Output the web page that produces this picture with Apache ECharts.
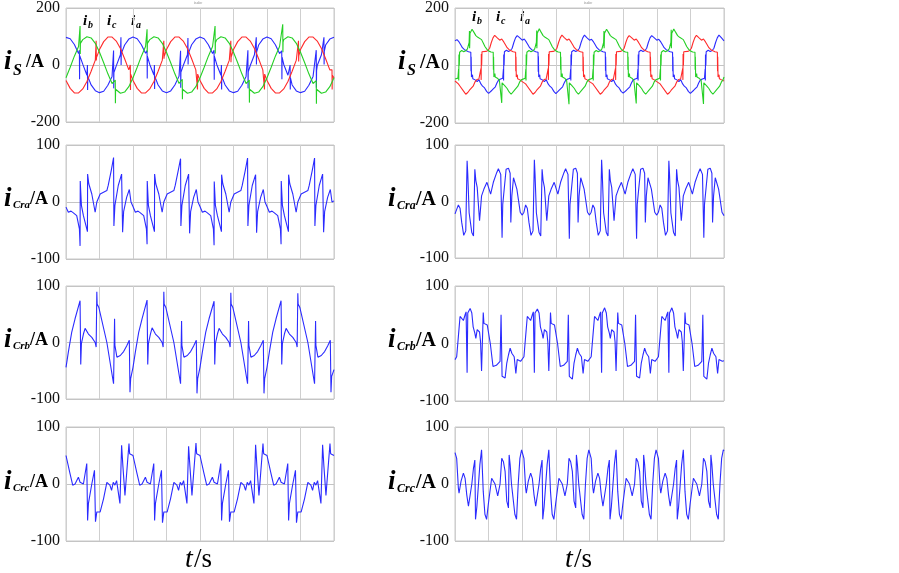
<!DOCTYPE html>
<html><head><meta charset="utf-8">
<script src="https://cdn.jsdelivr.net/npm/echarts@6/dist/echarts.min.js"></script>
<style>html,body{margin:0;padding:0;background:#fff}#c{width:899px;height:573px}</style>
</head><body><div id="c"></div>
<script>
// time axis: ms, 4 cycles of 20 ms, gridlines every 10 ms
const cycleStart = [0, 20, 40, 60];
const xTicks = [0, 10, 20, 30, 40, 50, 60, 70, 80];
const yTicksS = [-200, 0, 200];
const yTicksC = [-100, 0, 100];

// ---- left column (compensated) : source currents, [t within cycle (ms), A]
const iaL = [
 [[0,97],[1.25,92],[2.5,72],[3.75,40],[4.0,52],[4.05,-50],[4.1,33],[5,3],[6.25,-36],[6.4,0],[6.45,-88],[6.5,-40],[7.5,-70],[8.75,-90],[10,-97],[11.25,-92],[12.5,-71],[13.75,-40],[14.2,51],[14.25,-82],[14.3,-27],[15,-3],[16.25,36],[16.4,97],[16.45,0],[16.5,40],[17.5,70],[18.75,91]],
 [[0,98],[1.25,92],[2.5,71],[3.75,41],[4.2,51],[4.25,-47],[4.3,30],[5,2],[6.25,-35],[6.4,0],[6.45,-84],[6.5,-40],[7.5,-70],[8.75,-91],[10,-97],[11.25,-91],[12.5,-70],[13.75,-39],[14.2,50],[14.25,-80],[14.3,-26],[15,-2],[16.25,36],[16.4,95],[16.45,2],[16.5,40],[17.5,71],[18.75,91]],
 [[0,98],[1.25,92],[2.5,71],[3.75,40],[4.2,52],[4.25,-52],[4.3,30],[5,2],[6.25,-36],[6.4,0],[6.45,-86],[6.5,-40],[7.5,-70],[8.75,-91],[10,-97],[11.25,-92],[12.5,-71],[13.75,-40],[14.3,52],[14.35,-82],[14.4,-24],[15,-2],[16.25,36],[16.8,97],[16.85,2],[16.9,45],[17.5,70],[18.75,91]],
 [[0,98],[1.25,92],[2.5,71],[3.75,40],[4.4,50],[4.45,-50],[4.5,28],[5,2],[6.25,-36],[6.9,0],[6.95,-86],[7,-45],[7.5,-70],[8.75,-91],[10,-97],[11.25,-92],[12.5,-71],[13.75,-40],[14.7,52],[14.75,-80],[14.8,-20],[15,-2],[16.25,36],[17,97],[17.05,2],[17.1,48],[17.5,70],[18.75,91],[20,97]]
];
const ibL = [
 [[0,-45],[1.25,-8],[2.5,31],[3.75,65],[4.2,137],[4.25,39],[4.3,76],[5,89],[6.25,99],[7.5,95],[8.75,76],[10,45],[11.25,8],[12.5,-31],[13.75,-65],[14.7,-53],[14.75,-134],[14.8,-85],[15,-89],[16.25,-99],[17.5,-95],[18.75,-76]],
 [[0,-45],[1.25,-8],[2.5,31],[3.75,65],[4.2,125],[4.25,45],[4.3,76],[5,89],[6.25,99],[7.5,95],[8.75,76],[10,45],[11.25,8],[12.5,-31],[13.75,-65],[14.7,-50],[14.75,-120],[14.8,-85],[15,-89],[16.25,-99],[17.5,-95],[18.75,-76]],
 [[0,-45],[1.25,-8],[2.5,31],[3.75,65],[4.5,137],[4.55,40],[4.6,78],[5,89],[6.25,99],[7.5,95],[8.75,76],[10,45],[11.25,8],[12.5,-31],[13.75,-65],[14.7,-53],[14.75,-132],[14.8,-85],[15,-89],[16.25,-99],[17.5,-95],[18.75,-76]],
 [[0,-45],[1.25,-8],[2.5,31],[3.75,65],[4.7,143],[4.75,45],[4.8,80],[5,89],[6.25,99],[7.5,95],[8.75,76],[10,45],[11.25,8],[12.5,-31],[13.75,-65],[14.7,-55],[14.75,-136],[14.8,-85],[15,-89],[16.25,-99],[17.5,-95],[18.75,-76],[20,-45]]
];
const icL = [
 [[0,-54],[1.25,-82],[2.5,-98],[3.75,-98],[5,-84],[6.25,-58],[7.5,-22],[8.75,17],[9.0,85],[9.05,16],[9.1,26],[10,54],[11.25,82],[12.5,98],[13.75,98],[15,84],[16.25,58],[17.5,22],[18.75,-17],[19.2,0],[19.25,-88],[19.3,-32]],
 [[0,-54],[1.25,-82],[2.5,-98],[3.75,-98],[5,-84],[6.25,-58],[7.5,-22],[8.75,17],[9.2,85],[9.25,22],[9.3,30],[10,54],[11.25,82],[12.5,98],[13.75,98],[15,84],[16.25,58],[17.5,22],[18.75,-17],[19.2,-12],[19.25,-86],[19.3,-32]],
 [[0,-54],[1.25,-82],[2.5,-98],[3.75,-98],[5,-84],[6.25,-58],[7.5,-22],[8.75,17],[9.2,85],[9.25,10],[9.3,28],[10,54],[11.25,82],[12.5,98],[13.75,98],[15,84],[16.25,58],[17.5,22],[18.75,-17],[19.2,-10],[19.25,-86],[19.3,-32]],
 [[0,-54],[1.25,-82],[2.5,-98],[3.75,-98],[5,-84],[6.25,-58],[7.5,-22],[8.75,17],[9.4,85],[9.45,12],[9.5,32],[10,54],[11.25,82],[12.5,98],[13.75,98],[15,84],[16.25,58],[17.5,22],[18.75,-17],[19.4,-17],[19.45,-86],[19.5,-36],[20,-45]]
];
const icraL = [
 [[0,-9],[0.7,-18],[1.5,-16],[2.2,-19],[2.7,-17],[3.2,-24],[4.0,-47],[4.2,-77],[4.25,37],[4.6,-6],[5.2,-24],[6.2,-47],[6.4,-52],[6.45,49],[6.8,32],[7.7,14],[8.7,-18],[9.2,0],[10.2,14],[11.2,17],[12.2,20],[12.6,29],[13.5,55],[14.2,78],[14.3,-42],[14.6,-6],[15.6,29],[16.6,49],[16.9,-53],[17.2,-17],[18.1,8],[18.9,22],[19.4,0]],
 [[0,-8],[0.7,-18],[1.5,-16],[2.2,-19],[2.7,-17],[3.2,-24],[4.0,-47],[4.2,-74],[4.25,37],[4.6,-6],[5.2,-24],[6.2,-47],[6.4,-52],[6.45,49],[6.8,32],[7.7,14],[8.7,-18],[9.2,0],[10.2,14],[11.2,17],[12.2,20],[12.6,29],[13.5,55],[14.2,76],[14.3,-42],[14.6,-6],[15.6,29],[16.6,49],[16.9,-55],[17.2,-17],[18.1,8],[18.9,22],[19.4,0]],
 [[0,-8],[0.7,-18],[1.5,-16],[2.2,-19],[2.7,-17],[3.2,-24],[4.0,-47],[4.2,-76],[4.25,36],[4.6,-6],[5.2,-24],[6.2,-47],[6.4,-52],[6.45,48],[6.8,32],[7.7,14],[8.7,-18],[9.2,0],[10.2,14],[11.2,17],[12.2,20],[12.6,29],[13.5,55],[14.2,77],[14.3,-42],[14.6,-6],[15.6,29],[16.6,48],[16.9,-54],[17.2,-17],[18.1,8],[18.9,22],[19.4,0]],
 [[0,-8],[0.7,-18],[1.5,-16],[2.2,-19],[2.7,-17],[3.2,-24],[4.0,-47],[4.2,-74],[4.25,37],[4.6,-6],[5.2,-24],[6.2,-47],[6.4,-52],[6.45,48],[6.8,32],[7.7,14],[8.7,-18],[9.2,0],[10.2,14],[11.2,17],[12.2,20],[12.6,29],[13.5,55],[14.2,77],[14.3,-42],[14.6,-6],[15.6,29],[16.6,49],[16.9,-53],[17.2,-17],[18.1,8],[18.9,22],[19.4,0],[20,2]]
];
const icrbL = [
 [[0,-44],[0.7,-17],[1.7,18],[2.7,42],[4.2,74],[4.4,-39],[4.6,-2],[5.2,15],[5.7,25],[6.7,15],[7.7,9],[8.7,0],[9.0,-8],[9.2,90],[9.3,68],[9.8,62],[12.2,0],[14.2,-73],[14.5,42],[14.6,-5],[15.2,-26],[16.2,-23],[17.2,-16],[18.1,-6],[18.9,4],[19.1,-88],[19.3,-64]],
 [[0,-44],[0.7,-17],[1.7,18],[2.7,42],[4.2,75],[4.4,-39],[4.6,-2],[5.2,15],[5.7,26],[6.7,15],[7.7,9],[8.7,0],[9.0,-8],[9.2,90],[9.3,68],[9.8,62],[12.2,0],[14.2,-73],[14.5,38],[14.6,-5],[15.2,-26],[16.2,-23],[17.2,-16],[18.1,-6],[18.9,4],[19.1,-90],[19.3,-64]],
 [[0,-44],[0.7,-17],[1.7,18],[2.7,42],[4.2,73],[4.4,-39],[4.6,-2],[5.2,15],[5.7,25],[6.7,15],[7.7,9],[8.7,0],[9.0,-8],[9.2,88],[9.3,68],[9.8,62],[12.2,0],[14.2,-73],[14.5,38],[14.6,-5],[15.2,-26],[16.2,-23],[17.2,-16],[18.1,-6],[18.9,4],[19.1,-90],[19.3,-64]],
 [[0,-44],[0.7,-17],[1.7,18],[2.7,42],[4.2,74],[4.4,-39],[4.6,-2],[5.2,15],[5.7,25],[6.7,15],[7.7,9],[8.7,0],[9.0,-8],[9.2,87],[9.3,68],[9.8,62],[12.2,0],[14.2,-73],[14.5,38],[14.6,-5],[15.2,-26],[16.2,-23],[17.2,-16],[18.1,-6],[18.9,4],[19.1,-88],[19.3,-60],[20,-48]]
];
const icrcL = [
 [[0,50],[0.5,47],[1.2,18],[2.0,-2],[2.7,0],[3.7,12],[4.2,3],[5.2,0],[6.2,36],[6.45,-64],[6.7,-34],[7.7,0],[8.5,24],[8.8,-66],[9.2,-49],[10.2,-49],[11.2,-26],[12.2,3],[13.1,-2],[13.6,-11],[14.1,3],[14.6,-2],[15.1,6],[16.1,-34],[16.6,68],[17.0,30],[17.6,-20],[18.8,71],[19.0,53]],
 [[0,50],[0.5,47],[1.2,18],[2.0,-2],[2.7,0],[3.7,12],[4.2,3],[5.2,0],[6.2,36],[6.45,-64],[6.7,-34],[7.7,0],[8.5,24],[8.8,-68],[9.2,-49],[10.2,-49],[11.2,-26],[12.2,3],[13.1,-2],[13.6,-11],[14.1,3],[14.6,-2],[15.1,6],[16.1,-34],[16.6,66],[17.0,30],[17.6,-20],[18.8,72],[19.0,53]],
 [[0,50],[0.5,47],[1.2,18],[2.0,-2],[2.7,0],[3.7,12],[4.2,3],[5.2,0],[6.2,36],[6.45,-64],[6.7,-34],[7.7,0],[8.5,24],[8.8,-66],[9.2,-49],[10.2,-49],[11.2,-26],[12.2,3],[13.1,-2],[13.6,-11],[14.1,3],[14.6,-2],[15.1,6],[16.1,-34],[16.6,69],[17.0,30],[17.6,-20],[18.8,71],[19.0,53]],
 [[0,50],[0.5,47],[1.2,18],[2.0,-2],[2.7,0],[3.7,12],[4.2,3],[5.2,0],[6.2,36],[6.45,-64],[6.7,-34],[7.7,0],[8.5,24],[8.8,-68],[9.2,-49],[10.2,-49],[11.2,-26],[12.2,3],[13.1,-2],[13.6,-11],[14.1,3],[14.6,-2],[15.1,6],[16.1,-34],[16.6,69],[17.0,30],[17.6,-20],[18.8,71],[19.0,53],[20,50]]
];

// ---- right column (uncompensated)
const iaR = [
 [[0,86],[0.6,90],[1.2,82],[1.7,72],[2.2,62],[2.8,55],[3.4,51],[4.0,48],[4.5,50],[4.7,46],[4.75,-20],[4.8,30],[4.9,-40],[5.2,-32],[5.3,-46],[6,-50],[6.6,-56],[7.1,-49],[7.7,-64],[8.2,-72],[8.8,-78],[9.4,-90],[10.0,-97],[10.5,-92],[11.0,-86],[11.5,-80],[12.0,-74],[12.5,-60],[13.0,-50],[13.6,-47],[14.2,-44],[14.4,-12],[14.45,-52],[14.5,38],[14.6,0],[14.7,48],[15.3,53],[15.9,49],[16.5,52],[17.0,60],[17.5,80],[18.0,96],[18.5,104],[19.2,97]],
 [[0,88],[0.6,92],[1.2,82],[1.7,72],[2.2,62],[2.8,55],[3.4,51],[4.0,48],[4.5,50],[4.7,46],[4.75,-22],[4.8,32],[4.9,-40],[5.2,-32],[5.3,-46],[6,-50],[6.6,-56],[7.1,-49],[7.7,-64],[8.2,-72],[8.8,-78],[9.4,-90],[10.0,-98],[10.5,-92],[11.0,-86],[11.5,-80],[12.0,-74],[12.5,-60],[13.0,-50],[13.6,-47],[14.2,-44],[14.4,-12],[14.45,-52],[14.5,38],[14.6,0],[14.7,48],[15.3,53],[15.9,49],[16.5,52],[17.0,60],[17.5,80],[18.0,96],[18.5,106],[19.2,97]],
 [[0,88],[0.6,91],[1.2,82],[1.7,72],[2.2,62],[2.8,55],[3.4,51],[4.0,48],[4.5,50],[4.7,46],[4.75,-18],[4.8,30],[4.9,-40],[5.2,-32],[5.3,-46],[6,-50],[6.6,-56],[7.1,-49],[7.7,-64],[8.2,-72],[8.8,-78],[9.4,-90],[10.0,-96],[10.5,-92],[11.0,-86],[11.5,-80],[12.0,-74],[12.5,-60],[13.0,-50],[13.6,-47],[14.2,-44],[14.4,-12],[14.45,-52],[14.5,38],[14.6,0],[14.7,48],[15.3,53],[15.9,49],[16.5,52],[17.0,60],[17.5,80],[18.0,96],[18.5,104],[19.2,97]],
 [[0,88],[0.6,91],[1.2,82],[1.7,72],[2.2,62],[2.8,55],[3.4,51],[4.0,48],[4.5,50],[4.7,46],[4.75,-20],[4.8,30],[4.9,-40],[5.2,-32],[5.3,-46],[6,-50],[6.6,-56],[7.1,-49],[7.7,-64],[8.2,-72],[8.8,-78],[9.4,-90],[10.0,-97],[10.5,-92],[11.0,-86],[11.5,-80],[12.0,-74],[12.5,-60],[13.0,-50],[13.6,-47],[14.2,-44],[14.4,-12],[14.45,-52],[14.5,38],[14.6,0],[14.7,48],[15.3,53],[15.9,49],[16.5,52],[17.0,60],[17.5,80],[18.0,96],[18.5,106],[19.2,97],[20,86]]
];
const ibR = [
 [[0,-47],[0.87,-44],[1.07,-12],[1.12,-52],[1.17,38],[1.27,0],[1.37,46],[2.0,52],[2.6,48],[3.2,51],[3.7,58],[4.2,80],[4.3,120],[4.35,60],[4.47,112],[5.07,126],[5.6,116],[6.2,104],[6.8,98],[7.3,100],[7.9,90],[8.4,78],[8.9,66],[9.5,56],[10.1,50],[10.7,47],[11.2,49],[11.37,46],[11.42,-15],[11.47,30],[11.57,-40],[11.87,-28],[11.97,-40],[12.6,-44],[13.2,-52],[13.77,-50],[13.9,-130],[14.0,-60],[14.4,-64],[14.9,-72],[15.5,-80],[16.1,-92],[16.7,-100],[17.2,-94],[17.7,-86],[18.2,-80],[18.7,-72],[19.2,-58],[19.7,-50]],
 [[0,-47],[0.87,-44],[1.07,-12],[1.12,-52],[1.17,38],[1.27,0],[1.37,46],[2.0,52],[2.6,48],[3.2,51],[3.7,58],[4.2,80],[4.3,122],[4.35,60],[4.47,112],[5.07,128],[5.6,116],[6.2,104],[6.8,98],[7.3,100],[7.9,90],[8.4,78],[8.9,66],[9.5,56],[10.1,50],[10.7,47],[11.2,49],[11.37,46],[11.42,-15],[11.47,30],[11.57,-40],[11.87,-28],[11.97,-40],[12.6,-44],[13.2,-52],[13.77,-50],[13.9,-135],[14.0,-60],[14.4,-64],[14.9,-72],[15.5,-80],[16.1,-92],[16.7,-100],[17.2,-94],[17.7,-86],[18.2,-80],[18.7,-72],[19.2,-58],[19.7,-50]],
 [[0,-47],[0.87,-44],[1.07,-12],[1.12,-52],[1.17,38],[1.27,0],[1.37,46],[2.0,52],[2.6,48],[3.2,51],[3.7,58],[4.2,80],[4.3,120],[4.35,60],[4.47,112],[5.07,126],[5.6,116],[6.2,104],[6.8,98],[7.3,100],[7.9,90],[8.4,78],[8.9,66],[9.5,56],[10.1,50],[10.7,47],[11.2,49],[11.37,46],[11.42,-15],[11.47,30],[11.57,-40],[11.87,-28],[11.97,-40],[12.6,-44],[13.2,-52],[13.77,-50],[13.9,-132],[14.0,-60],[14.4,-64],[14.9,-72],[15.5,-80],[16.1,-92],[16.7,-100],[17.2,-94],[17.7,-86],[18.2,-80],[18.7,-72],[19.2,-58],[19.7,-50]],
 [[0,-47],[0.87,-44],[1.07,-12],[1.12,-52],[1.17,38],[1.27,0],[1.37,46],[2.0,52],[2.6,48],[3.2,51],[3.7,58],[4.2,80],[4.3,124],[4.35,60],[4.47,112],[5.07,127],[5.6,116],[6.2,104],[6.8,98],[7.3,100],[7.9,90],[8.4,78],[8.9,66],[9.5,56],[10.1,50],[10.7,47],[11.2,49],[11.37,46],[11.42,-15],[11.47,30],[11.57,-40],[11.87,-28],[11.97,-40],[12.6,-44],[13.2,-52],[13.77,-50],[13.9,-134],[14.0,-60],[14.4,-64],[14.9,-72],[15.5,-80],[16.1,-92],[16.7,-100],[17.2,-94],[17.7,-86],[18.2,-80],[18.7,-72],[19.2,-58],[19.7,-50],[20,-40]]
];
const icR = [
 [[0,-54],[0.45,-50],[1.0,-64],[1.5,-72],[2.0,-78],[2.6,-90],[3.2,-100],[3.8,-94],[4.3,-86],[4.8,-80],[5.4,-72],[5.9,-58],[6.5,-49],[7.1,-47],[7.5,-44],[7.73,-10],[7.78,-50],[7.83,40],[7.93,0],[8.03,48],[8.6,53],[9.2,49],[9.8,52],[10.3,60],[10.8,80],[11.3,96],[11.8,105],[12.5,97],[13.3,88],[13.9,92],[14.5,82],[15.0,72],[15.5,62],[16.1,55],[16.7,51],[17.3,48],[17.8,50],[18.03,46],[18.08,-20],[18.13,30],[18.23,-40],[18.53,-32],[18.63,-46],[19.3,-50]],
 [[0,-56],[0.45,-50],[1.0,-64],[1.5,-72],[2.0,-78],[2.6,-90],[3.2,-100],[3.8,-94],[4.3,-86],[4.8,-80],[5.4,-72],[5.9,-58],[6.5,-49],[7.1,-47],[7.5,-44],[7.73,-10],[7.78,-50],[7.83,40],[7.93,0],[8.03,48],[8.6,53],[9.2,49],[9.8,52],[10.3,60],[10.8,80],[11.3,96],[11.8,106],[12.5,97],[13.3,88],[13.9,92],[14.5,82],[15.0,72],[15.5,62],[16.1,55],[16.7,51],[17.3,48],[17.8,50],[18.03,46],[18.08,-20],[18.13,30],[18.23,-40],[18.53,-32],[18.63,-46],[19.3,-50]],
 [[0,-56],[0.45,-50],[1.0,-64],[1.5,-72],[2.0,-78],[2.6,-90],[3.2,-100],[3.8,-94],[4.3,-86],[4.8,-80],[5.4,-72],[5.9,-58],[6.5,-49],[7.1,-47],[7.5,-44],[7.73,-10],[7.78,-50],[7.83,40],[7.93,0],[8.03,48],[8.6,53],[9.2,49],[9.8,52],[10.3,60],[10.8,80],[11.3,96],[11.8,104],[12.5,97],[13.3,88],[13.9,92],[14.5,82],[15.0,72],[15.5,62],[16.1,55],[16.7,51],[17.3,48],[17.8,50],[18.03,46],[18.08,-20],[18.13,30],[18.23,-40],[18.53,-32],[18.63,-46],[19.3,-50]],
 [[0,-56],[0.45,-50],[1.0,-64],[1.5,-72],[2.0,-78],[2.6,-90],[3.2,-100],[3.8,-94],[4.3,-86],[4.8,-80],[5.4,-72],[5.9,-58],[6.5,-49],[7.1,-47],[7.5,-44],[7.73,-10],[7.78,-50],[7.83,40],[7.93,0],[8.03,48],[8.6,53],[9.2,49],[9.8,52],[10.3,60],[10.8,80],[11.3,96],[11.8,105],[12.5,97],[13.3,88],[13.9,92],[14.5,82],[15.0,72],[15.5,62],[16.1,55],[16.7,51],[17.3,48],[17.8,50],[18.03,46],[18.08,-20],[18.13,30],[18.23,-40],[18.53,-32],[18.63,-46],[19.3,-50],[20,-54]]
];
const icraR = [
 [[0,-22],[0.5,-19],[1.0,-6],[1.5,-12],[2.0,-37],[2.6,-60],[3.2,-52],[3.6,72],[3.8,48],[4.2,-20],[5.0,-55],[5.5,-61],[5.9,57],[6.2,37],[6.6,25],[7.3,-34],[7.9,10],[8.6,22],[9.5,34],[10.6,13],[11.4,34],[12.4,51],[12.9,58],[13.6,48],[14.0,-64],[14.2,-5],[15.2,57],[15.9,59],[16.4,50],[16.6,-37],[16.9,10],[17.4,42],[17.9,45],[18.4,22],[19.4,-19]],
 [[0,-24],[0.5,-19],[1.0,-6],[1.5,-12],[2.0,-37],[2.6,-60],[3.2,-52],[3.6,74],[3.8,48],[4.2,-20],[5.0,-55],[5.5,-61],[5.9,57],[6.2,37],[6.6,25],[7.3,-34],[7.9,10],[8.6,22],[9.5,34],[10.6,13],[11.4,34],[12.4,51],[12.9,58],[13.6,48],[14.0,-66],[14.2,-5],[15.2,57],[15.9,59],[16.4,50],[16.6,-37],[16.9,10],[17.4,42],[17.9,45],[18.4,22],[19.4,-19]],
 [[0,-24],[0.5,-19],[1.0,-6],[1.5,-12],[2.0,-37],[2.6,-60],[3.2,-52],[3.6,74],[3.8,48],[4.2,-20],[5.0,-55],[5.5,-61],[5.9,57],[6.2,37],[6.6,25],[7.3,-34],[7.9,10],[8.6,22],[9.5,34],[10.6,13],[11.4,34],[12.4,51],[12.9,58],[13.6,48],[14.0,-66],[14.2,-5],[15.2,57],[15.9,59],[16.4,50],[16.6,-37],[16.9,10],[17.4,42],[17.9,45],[18.4,22],[19.4,-19]],
 [[0,-24],[0.5,-19],[1.0,-6],[1.5,-12],[2.0,-37],[2.6,-60],[3.2,-52],[3.6,72],[3.8,48],[4.2,-20],[5.0,-55],[5.5,-61],[5.9,57],[6.2,37],[6.6,25],[7.3,-34],[7.9,10],[8.6,22],[9.5,34],[10.6,13],[11.4,34],[12.4,51],[12.9,58],[13.6,48],[14.0,-64],[14.2,-5],[15.2,57],[15.9,59],[16.4,50],[16.6,-37],[16.9,10],[17.4,42],[17.9,45],[18.4,22],[19.4,-19],[20,-25]]
];
const icrbR = [
 [[0,-28],[0.5,-23],[1.0,12],[1.5,47],[2.0,44],[2.5,40],[3.0,50],[3.3,55],[3.6,-51],[3.8,53],[4.5,61],[5.0,53],[5.4,29],[5.9,18],[6.2,9],[6.6,24],[7.3,20],[7.6,3],[7.9,-48],[8.4,54],[8.6,35],[9.6,32],[10.5,0],[11.3,-40],[12.3,-38],[13.4,-31],[13.7,50],[14.0,-57],[14.9,-60],[15.4,-34],[15.9,-20],[16.4,-8],[16.9,-17],[17.6,-23],[18.1,-52],[18.5,-28],[19.5,-31]],
 [[0,-28],[0.5,-23],[1.0,12],[1.5,47],[2.0,44],[2.5,40],[3.0,50],[3.3,55],[3.6,-51],[3.8,53],[4.5,60],[5.0,53],[5.4,29],[5.9,18],[6.2,9],[6.6,24],[7.3,20],[7.6,3],[7.9,-48],[8.4,54],[8.6,35],[9.6,32],[10.5,0],[11.3,-40],[12.3,-38],[13.4,-31],[13.7,50],[14.0,-57],[14.9,-62],[15.4,-34],[15.9,-20],[16.4,-8],[16.9,-17],[17.6,-23],[18.1,-52],[18.5,-28],[19.5,-31]],
 [[0,-28],[0.5,-23],[1.0,12],[1.5,47],[2.0,44],[2.5,40],[3.0,50],[3.3,55],[3.6,-51],[3.8,53],[4.5,62],[5.0,53],[5.4,29],[5.9,18],[6.2,9],[6.6,24],[7.3,20],[7.6,3],[7.9,-48],[8.4,54],[8.6,35],[9.6,32],[10.5,0],[11.3,-40],[12.3,-38],[13.4,-31],[13.7,50],[14.0,-57],[14.9,-60],[15.4,-34],[15.9,-20],[16.4,-8],[16.9,-17],[17.6,-23],[18.1,-52],[18.5,-28],[19.5,-31]],
 [[0,-28],[0.5,-23],[1.0,12],[1.5,47],[2.0,44],[2.5,40],[3.0,50],[3.3,55],[3.6,-51],[3.8,53],[4.5,62],[5.0,53],[5.4,29],[5.9,18],[6.2,9],[6.6,24],[7.3,20],[7.6,3],[7.9,-48],[8.4,54],[8.6,35],[9.6,32],[10.5,0],[11.3,-40],[12.3,-38],[13.4,-31],[13.7,50],[14.0,-57],[14.9,-62],[15.4,-34],[15.9,-20],[16.4,-8],[16.9,-17],[17.6,-23],[18.1,-52],[18.5,-28],[19.5,-31],[20,-30]]
];
const icrcR = [
 [[0,55],[0.5,45],[1.0,-7],[1.2,-16],[1.8,5],[2.5,19],[3.0,10],[3.5,-19],[4.0,-39],[4.5,-42],[5.0,0],[5.5,28],[5.9,42],[6.1,-62],[6.5,-40],[7.4,34],[7.9,60],[8.4,-13],[8.9,-53],[9.4,-62],[9.9,-36],[10.9,10],[11.4,13],[11.9,0],[12.7,-21],[13.4,0],[13.9,45],[14.4,39],[14.9,22],[15.4,-30],[15.9,-42],[16.1,51],[16.4,34],[16.8,0],[17.8,-53],[18.3,-62],[18.8,0],[19.3,45],[19.8,60]],
 [[0,58],[0.5,45],[1.0,-7],[1.2,-16],[1.8,5],[2.5,19],[3.0,10],[3.5,-19],[4.0,-39],[4.5,-42],[5.0,0],[5.5,28],[5.9,42],[6.1,-62],[6.5,-40],[7.4,34],[7.9,60],[8.4,-13],[8.9,-53],[9.4,-62],[9.9,-36],[10.9,10],[11.4,13],[11.9,0],[12.7,-21],[13.4,0],[13.9,45],[14.4,39],[14.9,22],[15.4,-30],[15.9,-42],[16.1,51],[16.4,34],[16.8,0],[17.8,-53],[18.3,-62],[18.8,0],[19.3,45],[19.8,60]],
 [[0,58],[0.5,45],[1.0,-7],[1.2,-16],[1.8,5],[2.5,19],[3.0,10],[3.5,-19],[4.0,-39],[4.5,-42],[5.0,0],[5.5,28],[5.9,42],[6.1,-62],[6.5,-40],[7.4,34],[7.9,60],[8.4,-13],[8.9,-53],[9.4,-62],[9.9,-36],[10.9,10],[11.4,13],[11.9,0],[12.7,-21],[13.4,0],[13.9,45],[14.4,39],[14.9,22],[15.4,-30],[15.9,-42],[16.1,51],[16.4,34],[16.8,0],[17.8,-53],[18.3,-62],[18.8,0],[19.3,45],[19.8,60]],
 [[0,58],[0.5,45],[1.0,-7],[1.2,-16],[1.8,5],[2.5,19],[3.0,10],[3.5,-19],[4.0,-39],[4.5,-42],[5.0,0],[5.5,28],[5.9,42],[6.1,-62],[6.5,-40],[7.4,34],[7.9,60],[8.4,-13],[8.9,-53],[9.4,-62],[9.9,-36],[10.9,10],[11.4,13],[11.9,0],[12.7,-21],[13.4,0],[13.9,45],[14.4,39],[14.9,22],[15.4,-30],[15.9,-42],[16.1,51],[16.4,34],[16.8,0],[17.8,-53],[18.3,-62],[18.8,0],[19.3,45],[19.8,60],[20,58]]
];

const panelYLabels = ['S', 'Cra', 'Crb', 'Crc'];
const phaseLabels = ['b', 'c', 'a'];
const colors = { a: '#2b2bff', b: '#25d025', c: '#ff2b2b' };

function build(cycles) {
  const out = [];
  cycles.forEach((c, k) => c.forEach(p => out.push([cycleStart[k] + p[0], p[1]])));
  return out;
}

const serif = '"Liberation Serif", "DejaVu Serif", serif';
const grids = [
  {left: 66, top: 7, width: 268, height: 115}, {left: 455, top: 7, width: 269, height: 116},
  {left: 66, top: 145, width: 268, height: 114}, {left: 455, top: 145, width: 269, height: 113},
  {left: 66, top: 286, width: 268, height: 113}, {left: 455, top: 286, width: 269, height: 115},
  {left: 66, top: 427, width: 268, height: 114}, {left: 455, top: 427, width: 269, height: 114}
].map(g => Object.assign({show: true, borderColor: '#c9c9c9', borderWidth: 1, backgroundColor: '#fff'}, g));

const xAxes = grids.map((g, i) => ({
  gridIndex: i, type: 'value', min: xTicks[0], max: xTicks[xTicks.length - 1], interval: 10,
  axisLine: {show: false}, axisTick: {show: false}, axisLabel: {show: false},
  splitLine: {show: true, lineStyle: {color: '#cfcfcf', width: 1}}
}));
const yAxes = grids.map((g, i) => {
  const t = i < 2 ? yTicksS : yTicksC;
  return {
    gridIndex: i, type: 'value', min: t[0], max: t[2], interval: t[2],
    axisLine: {show: false}, axisTick: {show: false},
    axisLabel: {show: true, fontFamily: serif, fontSize: 16, color: '#111', margin: 6},
    splitLine: {show: true, lineStyle: {color: '#c4c4c4', width: 1}}
  };
});

function line(data, idx, color) {
  return {type: 'line', xAxisIndex: idx, yAxisIndex: idx, data: build(data), showSymbol: false,
    symbol: 'none', lineStyle: {color: color, width: 1.1}, animation: false, z: 3};
}
const series = [
  line(iaL, 0, colors.a), line(icL, 0, colors.c), line(ibL, 0, colors.b),
  line(iaR, 1, colors.a), line(icR, 1, colors.c), line(ibR, 1, colors.b),
  line(icraL, 2, colors.a), line(icraR, 3, colors.a),
  line(icrbL, 4, colors.a), line(icrbR, 5, colors.a),
  line(icrcL, 6, colors.a), line(icrcR, 7, colors.a)
];

// text elements (axis names, curve labels, time label)
const graphic = [];
function txt(x, y, s, size, style, weight, fill) {
  graphic.push({type: 'text', left: x, top: y, silent: true,
    style: {text: s, font: `${style||'normal'} ${weight||'normal'} ${size}px ${serif}`, fill: fill || '#000'}});
}
const rowZero = [64, 201, 342, 484];
const nameX = [[4, 398], [4, 388], [4, 388], [4, 388]];
panelYLabels.forEach((sub, r) => {
  [0, 1].forEach(col => {
    const x0 = nameX[r][col];
    const y0 = rowZero[r];
    const long = sub.length > 1;
    const left = col === 0;
    txt(x0, y0 - 15, 'i', 27, 'italic', 'bold');
    txt(x0 + 9, y0 - 1, sub, long ? (left ? 11 : 12) : 16, 'italic', 'bold');
    const ax = long ? (left ? 26 : 28) : 22;
    txt(x0 + ax, y0 - 11, '/A', left ? 18 : 20, 'normal', 'bold');
  });
});
// phase labels in source-current panels
[[83, 14], [472, 10]].forEach(([x0, y0]) => {
  phaseLabels.forEach((p, k) => {
    const x = x0 + k * 24;
    txt(x, y0, 'i', 15, 'italic', 'bold');
    txt(x + 5, y0 + 6, p, 10, 'italic', 'bold');
  });
});
// tiny scope caption
txt(194, 1, 'isabc', 4, 'normal', 'normal', '#888');
txt(584, 1, 'isabc', 4, 'normal', 'normal', '#888');
// time axis labels
[[185, 546], [565, 546]].forEach(([x, y]) => {
  txt(x, y, 't', 28, 'italic', 'normal');
  txt(x + 9, y, '/s', 27, 'normal', 'normal');
});

const chart = echarts.init(document.getElementById('c'), null, {renderer: 'canvas'});
chart.setOption({animation: false, grid: grids, xAxis: xAxes, yAxis: yAxes, series: series, graphic: graphic});
</script></body></html>
